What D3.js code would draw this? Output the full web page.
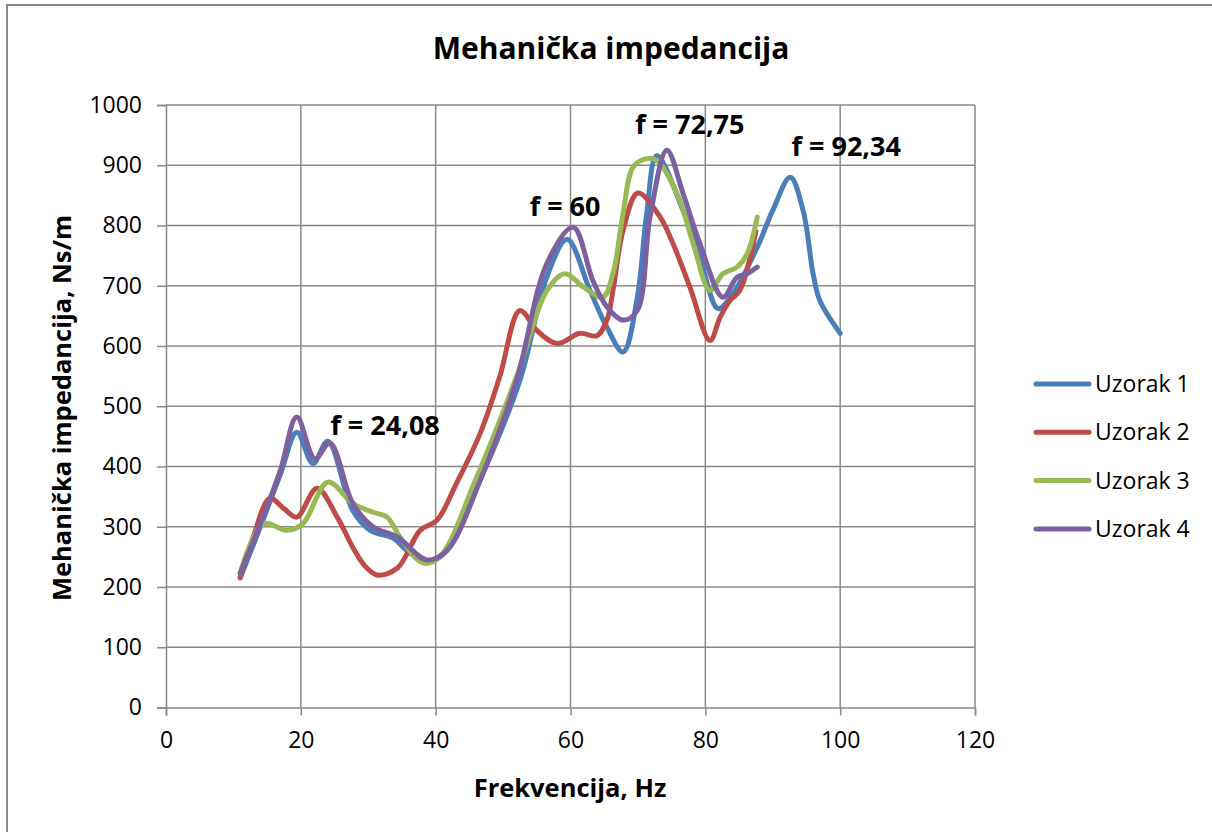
<!DOCTYPE html>
<html>
<head>
<meta charset="utf-8">
<script src="https://cdn.jsdelivr.net/npm/d3@7"></script>
<style>
  html, body { margin: 0; padding: 0; background: #fff; }
  svg { display: block; font-family: "Open Sans", Lato, sans-serif; }
</style>
</head>
<body>
<svg id="chart" width="1212" height="832"></svg>
<script>
// Mechanical impedance vs. frequency for four samples
const seriesNames = ["Uzorak 1", "Uzorak 2", "Uzorak 3", "Uzorak 4"];
const seriesColors = ["#4A7EBB", "#BE4B48", "#98B954", "#7D60A0"];

const freq1 = [11, 14, 17, 19.4, 21.8, 24, 27.7, 30.3, 33.7, 35.7, 38.7, 41.7, 46.6, 52.5, 56.5, 59.5, 62.9, 65.4, 67.8, 69.9, 71.3, 72.8, 76.7, 79.2, 81.9, 84.1, 87.7, 90, 92.6, 94.5, 96, 97, 100];
const imp1  = [215, 300, 388, 457, 405, 442, 327, 294, 281, 261, 241, 261, 377, 543, 715, 777, 692, 631, 590, 680, 820, 916, 825, 747, 662, 687, 764, 825, 880, 825, 719, 675, 621];

const freq2 = [11, 13, 15.4, 17.5, 19.4, 22.4, 25.4, 27.7, 29.5, 31.3, 34.3, 37.7, 40.2, 43, 46.6, 49.5, 52.5, 55, 58, 61.4, 63.9, 65.4, 66.3, 67.8, 70, 73.3, 75.2, 77.7, 80.7, 82.2, 83.7, 85.1, 87.5];
const imp2  = [216, 285, 347, 330, 316, 364, 316, 266, 235, 220, 231, 294, 311, 370, 455, 549, 659, 626, 604, 621, 617, 643, 692, 792, 854, 814, 770, 698, 609, 648, 676, 692, 790];

const freq3 = [11, 14.4, 17.9, 20.3, 24, 27.7, 30.7, 32.8, 34.7, 38.1, 40.6, 46, 52, 56.5, 59.2, 61.9, 64.8, 66.3, 67.8, 69.3, 71.3, 72.8, 75.8, 78.2, 80.7, 82.6, 84.7, 86.2, 87.7];
const imp3  = [223, 305, 294, 305, 374, 339, 324, 316, 283, 240, 250, 380, 549, 692, 720, 698, 681, 720, 820, 897, 911, 908, 853, 770, 692, 720, 731, 753, 814];

const freq4 = [11, 14, 17, 19.4, 22.1, 24.3, 27.7, 30.7, 34.3, 38.7, 41.7, 46.6, 52, 56.5, 60.4, 63.3, 65.4, 67.8, 69.9, 71.8, 74.3, 76.7, 79.2, 82.6, 84.7, 86.2, 87.7];
const imp4  = [223, 305, 395, 482, 413, 439, 339, 300, 283, 245, 261, 377, 543, 737, 797, 709, 665, 643, 659, 814, 925, 853, 770, 681, 714, 720, 731];

const xTicks = [0, 20, 40, 60, 80, 100, 120];
const yTicks = [0, 100, 200, 300, 400, 500, 600, 700, 800, 900, 1000];

// Peak annotations: label text and the frequency / impedance of its baseline centre
const noteTexts = ["f = 24,08", "f = 60", "f = 72,75", "f = 92,34"];
const noteFreq  = [32.5, 59.2, 77.7, 100.9];
const noteImp   = [452, 815, 952, 916];

const chartTitle = "Mehanička impedancija";
const xTitle = "Frekvencija, Hz";
const yTitle = "Mehanička impedancija, Ns/m";

const svg = d3.select("#chart");
const plot = { left: 166, top: 105, right: 975, bottom: 707.5 };

const x = d3.scaleLinear().domain([0, 120]).range([plot.left, plot.right]);
const y = d3.scaleLinear().domain([0, 1000]).range([plot.bottom, plot.top]);

const gridColor = "#898989";
const fontStack = "'Open Sans', Lato, sans-serif";

// outer chart frame
svg.append("rect")
  .attr("x", 7).attr("y", 5).attr("width", 1230).attr("height", 850)
  .attr("fill", "#fff").attr("stroke", gridColor).attr("stroke-width", 2);

// title
svg.append("text")
  .attr("x", 611).attr("y", 59)
  .attr("text-anchor", "middle")
  .attr("font-size", 30).attr("font-weight", "bold")
  .text(chartTitle);

// gridlines
svg.append("g").selectAll("line").data(yTicks.slice(1)).join("line")
  .attr("x1", plot.left).attr("x2", plot.right)
  .attr("y1", d => y(d)).attr("y2", d => y(d))
  .attr("stroke", gridColor).attr("stroke-width", 1.5);
svg.append("g").selectAll("line").data(xTicks.slice(1)).join("line")
  .attr("x1", d => x(d)).attr("x2", d => x(d))
  .attr("y1", plot.top).attr("y2", plot.bottom)
  .attr("stroke", gridColor).attr("stroke-width", 1.5);

// axes
const xAxis = d3.axisBottom(x).tickValues(xTicks).tickSize(8).tickPadding(16).tickFormat(d3.format("d"));
const yAxis = d3.axisLeft(y).tickValues(yTicks).tickSize(9).tickPadding(15).tickFormat(d3.format("d"));

const gx = svg.append("g").attr("transform", `translate(0,${plot.bottom})`).call(xAxis);
const gy = svg.append("g").attr("transform", `translate(${plot.left},0)`).call(yAxis);
[gx, gy].forEach(g => {
  g.select(".domain").attr("stroke", gridColor).attr("stroke-width", 1.5);
  g.selectAll(".tick line").attr("stroke", gridColor).attr("stroke-width", 1.5);
  g.selectAll(".tick text").attr("fill", "#000").attr("font-size", 23)
    .attr("font-family", fontStack);
});

// axis titles
svg.append("text")
  .attr("x", 570).attr("y", 797)
  .attr("text-anchor", "middle")
  .attr("font-size", 25.5).attr("font-weight", "bold")
  .text(xTitle);
svg.append("text")
  .attr("transform", "translate(71,408) rotate(-90)")
  .attr("text-anchor", "middle")
  .attr("font-size", 25.5).attr("font-weight", "bold")
  .text(yTitle);

// series lines
const freqs = [freq1, freq2, freq3, freq4];
const imps = [imp1, imp2, imp3, imp4];
const line = d3.line().x(d => x(d[0])).y(d => y(d[1])).curve(d3.curveCatmullRom.alpha(0.5));

seriesNames.forEach((name, i) => {
  const pts = freqs[i].map((f, j) => [f, imps[i][j]]);
  svg.append("path")
    .datum(pts)
    .attr("fill", "none")
    .attr("stroke", seriesColors[i])
    .attr("stroke-width", 5)
    .attr("stroke-linejoin", "round")
    .attr("stroke-linecap", "round")
    .attr("d", line);
});

// peak annotations
noteTexts.forEach((t, i) => {
  svg.append("text")
    .attr("x", x(noteFreq[i])).attr("y", y(noteImp[i]))
    .attr("text-anchor", "middle")
    .attr("font-size", 27).attr("font-weight", "bold")
    .text(t);
});

// legend
const legend = svg.append("g");
seriesNames.forEach((name, i) => {
  const ly = 384 + i * 48.3;
  legend.append("line")
    .attr("x1", 1036).attr("x2", 1089).attr("y1", ly).attr("y2", ly)
    .attr("stroke", seriesColors[i]).attr("stroke-width", 5)
    .attr("stroke-linecap", "round");
  legend.append("text")
    .attr("x", 1095).attr("y", ly + 8)
    .attr("font-size", 23)
    .text(name);
});
</script>
</body>
</html>
